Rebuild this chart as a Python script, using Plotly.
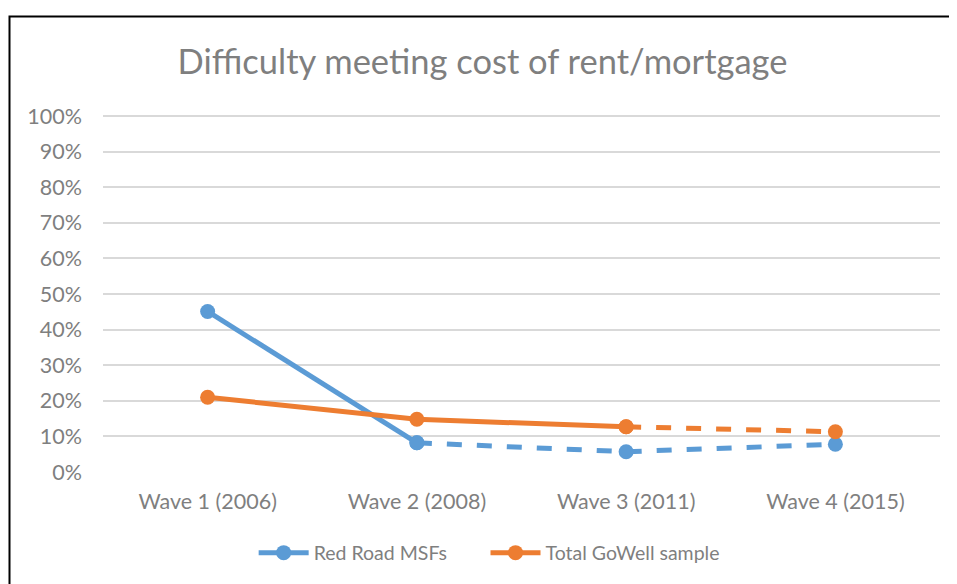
import plotly.graph_objects as go

categories = ["Wave 1 (2006)", "Wave 2 (2008)", "Wave 3 (2011)", "Wave 4 (2015)"]
red_road = [0.451, 0.082, 0.057, 0.078]
gowell = [0.210, 0.148, 0.127, 0.113]
y_ticks = [i / 10 for i in range(11)]
y_tick_labels = [f"{i*10}%" for i in range(11)]

BLUE = "#5B9BD5"
ORANGE = "#ED7D31"
FONT = "Lato, 'Open Sans', sans-serif"
TXT = "#7F7F7F"

W, H = 949, 576  # page body adds 8px margin
L, T, PW, PH = 95, 107, 837, 357

fig = go.Figure()

LW, MS = 5, 15
fig.add_trace(go.Scatter(x=categories[:2], y=red_road[:2], mode="lines+markers",
                         name="Red Road MSFs", line=dict(color=BLUE, width=LW),
                         marker=dict(size=MS, color=BLUE), legendgroup="rr", legend="legend"))
fig.add_trace(go.Scatter(x=categories[1:], y=red_road[1:], mode="lines+markers",
                         name="Red Road MSFs", line=dict(color=BLUE, width=LW, dash="dash"),
                         marker=dict(size=MS, color=BLUE), legendgroup="rr", showlegend=False))
fig.add_trace(go.Scatter(x=categories[:3], y=gowell[:3], mode="lines+markers",
                         name="Total GoWell sample", line=dict(color=ORANGE, width=LW),
                         marker=dict(size=MS, color=ORANGE), legendgroup="gw", legend="legend2"))
fig.add_trace(go.Scatter(x=categories[2:], y=gowell[2:], mode="lines+markers",
                         name="Total GoWell sample", line=dict(color=ORANGE, width=LW, dash="dash"),
                         marker=dict(size=MS, color=ORANGE), legendgroup="gw", showlegend=False,
                         legend="legend2"))

leg_y = -(545 - T - PH) / PH
leg_common = dict(orientation="h", xanchor="left", y=leg_y, yanchor="middle",
                  font=dict(size=19.5, color=TXT), itemwidth=50, bgcolor="rgba(0,0,0,0)")

fig.update_layout(
    width=W, height=H,
    margin=dict(l=L, r=W - L - PW, t=T, b=H - T - PH),
    paper_bgcolor="white", plot_bgcolor="white",
    title=dict(text="Difficulty meeting cost of rent/mortgage", x=0.5, xanchor="center",
               y=1 - 54 / H, yanchor="middle",
               font=dict(family=FONT, size=34.5, color=TXT)),
    font=dict(family=FONT, size=21, color=TXT),
    xaxis=dict(type="category", showgrid=False, showline=False, ticks="",
               ticklabelstandoff=14,
               tickfont=dict(size=21.5, color=TXT), range=[-0.5, 3.5]),
    yaxis=dict(range=[0, 1.003], tickvals=y_ticks, ticktext=y_tick_labels,
               showgrid=True, gridcolor="#D9D9D9", gridwidth=1.5, zeroline=False,
               showline=False, ticks="", ticklabelstandoff=20,
               tickfont=dict(size=21.5, color=TXT)),
    legend=dict(x=0.18, **leg_common),
    legend2=dict(x=0.457, **leg_common),
    shapes=[dict(type="rect", xref="paper", yref="paper",
                 x0=(1.5 - L) / PW, x1=1.2, y0=-0.5, y1=(T + PH - 8.5) / PH,
                 line=dict(color="black", width=2), fillcolor="rgba(0,0,0,0)", layer="below")],
)

fig.write_html("out.html")
